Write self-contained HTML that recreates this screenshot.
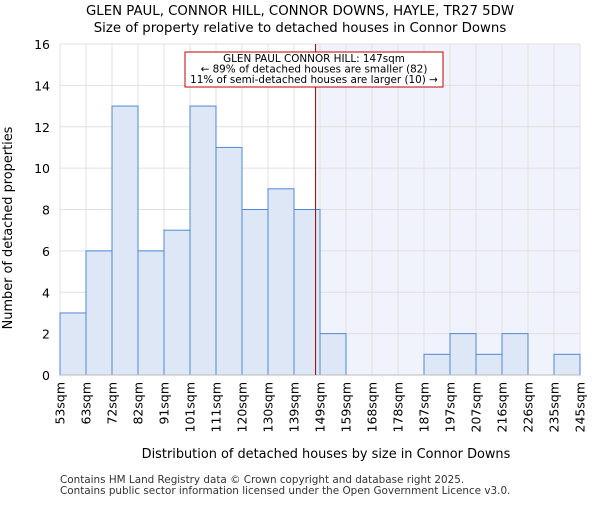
<!DOCTYPE html>
<html><head><meta charset="utf-8"><style>
body{margin:0;background:#fff;}
svg{font-family:"DejaVu Sans","Liberation Sans",sans-serif;}
</style></head><body>
<svg width="600" height="500" viewBox="0 0 600 500">
<text x="300" y="15" text-anchor="middle" font-size="13.3">GLEN PAUL, CONNOR HILL, CONNOR DOWNS, HAYLE, TR27 5DW</text>
<text x="300" y="32" text-anchor="middle" font-size="13.3">Size of property relative to detached houses in Connor Downs</text>
<g id="plot"></g>
<text x="326" y="458" text-anchor="middle" font-size="12.9">Distribution of detached houses by size in Connor Downs</text>
<text transform="translate(12,228) rotate(-90)" text-anchor="middle" font-size="12.9">Number of detached properties</text>
<text x="60" y="483" font-size="10.4" fill="#333">Contains HM Land Registry data © Crown copyright and database right 2025.</text>
<text x="60" y="494" font-size="10.4" fill="#333">Contains public sector information licensed under the Open Government Licence v3.0.</text>
</svg>
<script>
const binLabels=["53sqm","63sqm","72sqm","82sqm","91sqm","101sqm","111sqm","120sqm","130sqm","139sqm","149sqm","159sqm","168sqm","178sqm","187sqm","197sqm","207sqm","216sqm","226sqm","235sqm","245sqm"];
const counts=[3,6,13,6,7,13,11,8,9,8,2,0,0,0,1,2,1,2,0,1];
const yTicks=[0,2,4,6,8,10,12,14,16];
const propertyIndex=9.83;
const NS="http://www.w3.org/2000/svg";
const g=document.getElementById('plot');
const X0=60,X1=580,Y0=375,Y1=44,YMAX=16;
const bw=(X1-X0)/counts.length;
const xs=i=>X0+i*bw;
const ys=v=>Y0-(v/YMAX)*(Y0-Y1);
function mk(t,a){const e=document.createElementNS(NS,t);for(const k in a)e.setAttribute(k,a[k]);g.appendChild(e);return e;}
const px=xs(propertyIndex);
let e=mk('rect',{x:px,y:Y1,width:X1-px,height:Y0-Y1,fill:'#f0f3fb'});


yTicks.forEach(t=>{let l=mk('line',{x1:X0,x2:X1,y1:ys(t),y2:ys(t),stroke:'#e0e0e0'});


let tx=mk('text',{x:X0-10,y:ys(t)+5,'text-anchor':'end','font-size':12.5});tx.textContent=t;

});
binLabels.forEach((s,i)=>{let l=mk('line',{x1:xs(i),x2:xs(i),y1:Y1,y2:Y0,stroke:'#e0e0e0'});


let tx=mk('text',{transform:`translate(${xs(i)+4.5},382) rotate(-90)`,'text-anchor':'end','font-size':12.5});tx.textContent=s;

});
counts.forEach((c,i)=>{if(c<=0)return;let r=mk('rect',{x:xs(i),y:ys(c),width:bw,height:Y0-ys(c),fill:'#dde7f5',stroke:'#5188d4','stroke-width':1});

});
e=mk('line',{x1:X0,x2:X1,y1:Y0,y2:Y0,stroke:'#bbb'});


e=mk('line',{x1:px,x2:px,y1:Y1,y2:Y0,stroke:'#a00000','stroke-width':1});


e=mk('rect',{x:185,y:52,width:258,height:35,fill:'#fff',stroke:'#c00000'});


["GLEN PAUL CONNOR HILL: 147sqm","← 89% of detached houses are smaller (82)","11% of semi-detached houses are larger (10) →"].forEach((s,i)=>{let t=mk('text',{x:314,y:62+i*10.5,'text-anchor':'middle','font-size':10.4});t.textContent=s;

});
</script>
</body></html>
